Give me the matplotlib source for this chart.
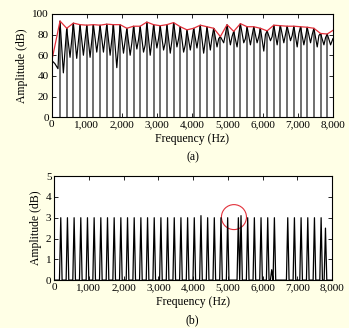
import numpy as np
import matplotlib
matplotlib.use("Agg")
import matplotlib.pyplot as plt
from matplotlib.patches import Ellipse
from matplotlib.ticker import FuncFormatter

# ---------------- data ----------------
# (a) spectrum: harmonic peaks
peak_freqs = [238, 428, 618, 808, 998, 1188, 1378, 1568, 1758, 1948, 2138,
              2328, 2518, 2708, 2898, 3088, 3278, 3468, 3658, 3848, 4038,
              4228, 4418, 4608, 4798, 4988, 5178, 5368, 5558, 5748, 5938,
              6128, 6318, 6508, 6698, 6888, 7078, 7268, 7458, 7648, 7838]
peak_vals = [93, 86, 91, 89.5, 89, 89.5, 89, 90, 89.5, 89.5, 86,
             88, 88, 92, 89.5, 88.5, 89.5, 91.5, 87.5, 84.5, 86,
             89, 87.5, 86, 78, 89.5, 83, 90.5, 87.5, 87.5, 86,
             83.5, 89, 88.5, 88, 88, 87.5, 87, 86, 81, 80.5]
# valleys following each peak
valley_vals = [43, 58, 57, 60, 58, 63, 63, 60, 48, 62, 60,
               66, 63, 60, 67, 65, 62, 68, 63, 65, 67,
               62, 65, 68, 72, 70, 68, 72, 70, 72, 64,
               74, 70, 72, 74, 68, 70, 72, 68, 70, 70]
# small bumps between valley and next peak (nan = none)
bump_vals = [np.nan, np.nan, np.nan, np.nan, np.nan, np.nan, np.nan, np.nan,
             np.nan, np.nan, 72, 75, 70, 74, 76, 72, 74, 76, 70, 75, 78,
             74, 77, 76, 80, 78, 80, 76, 79, 78, 80, 78, 81, 80, 79, 81,
             78, 80, 79, 77, np.nan]
start_freqs = [0, 90, 180]
start_vals = [55, 52, 47]
end_freq = 8000
end_val = 76

# red envelope end points
env_start = (0, 54)
env_end = (8000, 84)

# (b) detected harmonic spikes
spike_freqs = [192, 384, 576, 768, 960, 1152, 1344, 1536, 1728, 1920, 2112,
               2304, 2496, 2688, 2880, 3072, 3264, 3456, 3648, 3840, 4032,
               4224, 4416, 4608, 4800, 4992, 5300, 5376, 5568, 5760, 5952,
               6144, 6259, 6336, 6720, 6912, 7104, 7296, 7488, 7680, 7805]
spike_vals = [3, 3, 3, 3, 3, 3, 3, 3, 3, 3, 3,
              3, 3, 3, 3, 3, 3, 3, 3, 3, 3,
              3.1, 3, 3, 3, 3, 3, 3.1, 3, 3, 3,
              3, 0.5, 3, 3, 3, 3, 3, 3, 3, 2.5]
circle_center = (5173, 3.03)

xticks = [0, 1000, 2000, 3000, 4000, 5000, 6000, 7000, 8000]

# ---------------- style ----------------
BG = "#FFFFE6"
RED = "#E2303A"
plt.rcParams['font.family'] = ['Liberation Serif', 'DejaVu Serif']
plt.rcParams['font.size'] = 8

fig = plt.figure(figsize=(3.49, 3.28), dpi=100, facecolor=BG)
ax1 = fig.add_axes([0.148, 0.642, 0.806, 0.316])
ax2 = fig.add_axes([0.155, 0.146, 0.797, 0.317])

comma = FuncFormatter(lambda v, p: f"{int(v):,}")

# ---- (a) ----
sf, sv = [], []
sf += start_freqs
sv += start_vals
spacing = np.diff(peak_freqs).mean()
for i, (f, p) in enumerate(zip(peak_freqs, peak_vals)):
    sf.append(f); sv.append(p)
    sf.append(f + 0.5 * spacing); sv.append(valley_vals[i])
    if not np.isnan(bump_vals[i]):
        sf.append(f + 0.75 * spacing); sv.append(bump_vals[i])
sf.append(end_freq); sv.append(end_val)

ax1.vlines(peak_freqs, 0, peak_vals, color="#6f6f6f", lw=1.4)
ax1.plot(sf, sv, color="black", lw=0.85)
ax1.plot([env_start[0]] + peak_freqs + [env_end[0]],
         [env_start[1]] + peak_vals + [env_end[1]], color=RED, lw=0.9)
ax1.set_xlim(0, 8000)
ax1.set_ylim(0, 100)
ax1.set_xticks(xticks)
ax1.set_yticks([0, 20, 40, 60, 80, 100])
ax1.xaxis.set_major_formatter(comma)
ax1.set_xlabel("Frequency (Hz)", fontsize=8.5, labelpad=3)
ax1.set_ylabel("Amplitude (dB)", fontsize=8.5, labelpad=3)

# ---- (b) ----
bw = 38
bf, bv = [0], [0]
for f, a in zip(spike_freqs, spike_vals):
    bf += [f - bw, f, f + bw]
    bv += [0, a, 0]
bf.append(8000); bv.append(0)
ax2.plot(bf, bv, color="black", lw=0.9)
ax2.add_patch(Ellipse(circle_center, 720, 1.2, fill=False, ec=RED, lw=0.8))
ax2.set_xlim(0, 8000)
ax2.set_ylim(0, 5)
ax2.set_xticks(xticks)
ax2.set_yticks([0, 1, 2, 3, 4, 5])
ax2.xaxis.set_major_formatter(comma)
ax2.set_xlabel("Frequency (Hz)", fontsize=8.5, labelpad=3)
ax2.set_ylabel("Amplitude (dB)", fontsize=8.5, labelpad=3)

for ax in (ax1, ax2):
    ax.set_facecolor("white")
    ax.tick_params(direction="in", length=3, width=0.6, top=True, right=True,
                   labelsize=8, pad=2)
    for s in ax.spines.values():
        s.set_linewidth(0.8)

fig.text(0.552, 0.52, "(a)", ha="center", va="center", fontsize=8.5)
fig.text(0.552, 0.025, "(b)", ha="center", va="center", fontsize=8.5)

fig.savefig("out.png", dpi=100, facecolor=BG)
